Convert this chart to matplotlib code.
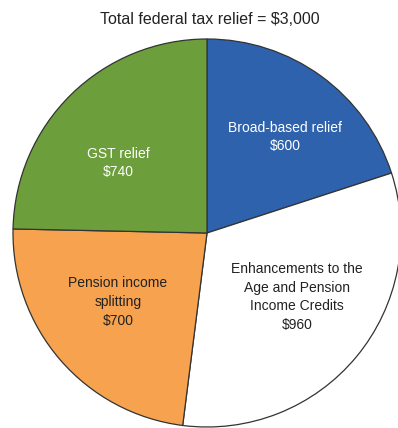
import matplotlib
matplotlib.use("Agg")
import matplotlib.pyplot as plt

plt.rcParams['font.family'] = ['Liberation Sans', 'DejaVu Sans']

# data
categories = ['Broad-based relief', 'Enhancements to the\nAge and Pension\nIncome Credits',
              'Pension income\nsplitting', 'GST relief']
amounts = [600, 960, 700, 740]
total = 3000
colors = ['#2f62ad', '#ffffff', '#f7a24f', '#6c9e3b']
text_colors = ['white', '#222222', '#222222', 'white']

# label positions in pixel space (x, y from top)
label_pos = [(285, 137), (297, 297), (118, 302), (118, 163)]

W, H = 398, 428
fig = plt.figure(figsize=(W / 100, H / 100), dpi=100)
ax = fig.add_axes([0, 0, 1, 1])

cx, cy, r = 207, H - 233, 194
ax.pie(amounts, colors=colors, startangle=90, counterclock=False,
       center=(cx, cy), radius=r, frame=True,
       wedgeprops=dict(edgecolor='#333333', linewidth=0.9))
ax.set_xlim(0, W)
ax.set_ylim(0, H)
ax.set_aspect('equal')
ax.axis('off')

for cat, amt, (px, py), tc in zip(categories, amounts, label_pos, text_colors):
    ax.text(px, H - py, f"{cat}\n${amt}", ha='center', va='center',
            fontsize=10, color=tc, linespacing=1.42)

ax.text(210, H - 19, f"Total federal tax relief = ${total:,}",
        ha='center', va='center', fontsize=11.5, color='#222222')

plt.savefig("out.png", dpi=100)
